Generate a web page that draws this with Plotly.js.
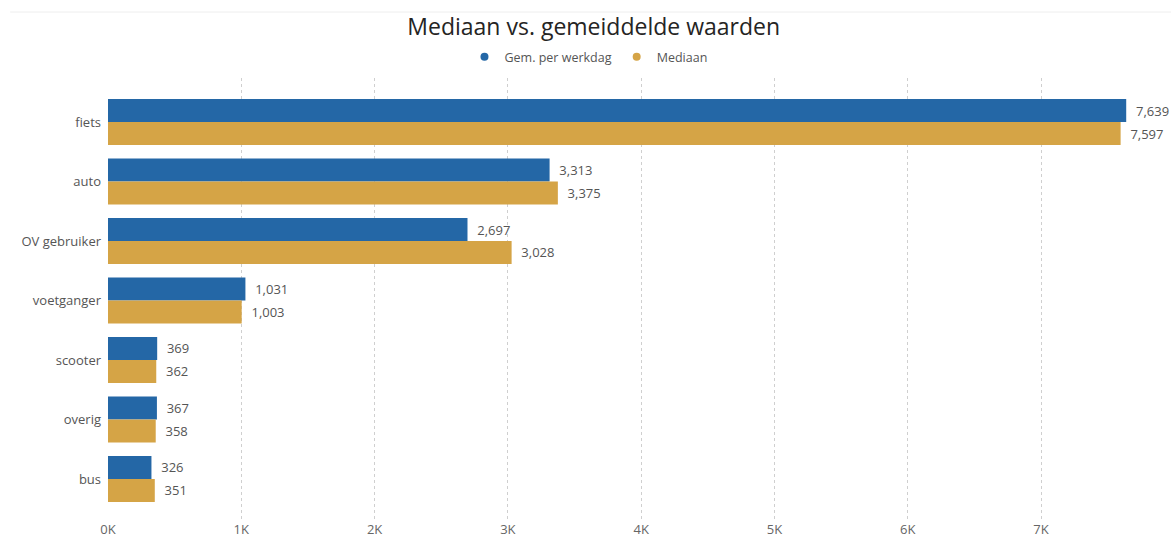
<!DOCTYPE html>
<html>
<head>
<meta charset="utf-8">
<script src="https://cdn.plot.ly/plotly-3.0.1.min.js"></script>
<style>html,body{margin:0;padding:0;background:#fff;}#chart{width:1171px;height:544px;}</style>
</head>
<body>
<div id="chart"></div>
<script>
const categories = ["fiets", "auto", "OV gebruiker", "voetganger", "scooter", "overig", "bus"];
const gemPerWerkdag = [7639, 3313, 2697, 1031, 369, 367, 326];
const mediaan = [7597, 3375, 3028, 1003, 362, 358, 351];
const seriesNames = ["Gem. per werkdag", "Mediaan"];
const tickValues = [0, 1000, 2000, 3000, 4000, 5000, 6000, 7000];
const tickLabels = ["0K", "1K", "2K", "3K", "4K", "5K", "6K", "7K"];

const blue = "#2467A6";
const gold = "#D5A446";
const fontFam = "'Open Sans', 'Noto Sans', sans-serif";

function barTrace(vals, name, color) {
  return {
    type: "bar", orientation: "h",
    x: vals, y: categories, name: name,
    marker: {color: color},
    text: vals.map(v => "  " + v.toLocaleString("en-US")),
    textposition: "outside",
    textfont: {family: fontFam, size: 13, color: "#555"},
    cliponaxis: false,
    showlegend: false,
    hoverinfo: "x+name"
  };
}
function legendTrace(name, color) {
  return {
    type: "scatter", mode: "markers",
    x: [null], y: [null], name: name,
    marker: {color: color, size: 8, symbol: "circle"},
    showlegend: true
  };
}

const data = [
  barTrace(gemPerWerkdag, seriesNames[0], blue),
  barTrace(mediaan, seriesNames[1], gold),
  legendTrace(seriesNames[0], blue),
  legendTrace(seriesNames[1], gold)
];

const layout = {
  width: 1171, height: 544,
  margin: {l: 108, r: 0, t: 78, b: 24},
  paper_bgcolor: "#fff", plot_bgcolor: "#fff",
  font: {family: fontFam, color: "#555"},
  barmode: "group",
  bargap: 0.227, bargroupgap: 0,
  title: {
    text: "Mediaan vs. gemeiddelde waarden",
    font: {family: fontFam, size: 23, color: "#252423"},
    x: 0.507, xanchor: "center", y: 1 - 27/544, yanchor: "middle", yref: "container"
  },
  legend: {
    orientation: "h", x: 0.452, xanchor: "center", y: 1 - 57/544, yanchor: "middle", yref: "container",
    font: {family: fontFam, size: 12.5, color: "#555"},
    itemwidth: 30, tracegroupgap: 0
  },
  xaxis: {
    range: [0, 7975],
    tickvals: tickValues, ticktext: tickLabels,
    showgrid: true, gridcolor: "#cfcfcf", griddash: "dot", gridwidth: 1,
    zeroline: false, showline: false,
    tickfont: {family: fontFam, size: 13, color: "#666"},
    fixedrange: true
  },
  yaxis: {
    type: "category",
    range: [6.69, -0.74],
    showgrid: false, zeroline: false, showline: false,
    ticklabelstandoff: 6,
    tickfont: {family: fontFam, size: 13, color: "#555"},
    fixedrange: true
  },
  shapes: [{
    type: "line", xref: "paper", yref: "paper",
    x0: -0.092, x1: 1, y0: 1 + (78-12)/442, y1: 1 + (78-12)/442,
    line: {color: "#eeeeee", width: 1}
  }]
};

Plotly.newPlot("chart", data, layout, {displayModeBar: false, staticPlot: true});
</script>
</body>
</html>
